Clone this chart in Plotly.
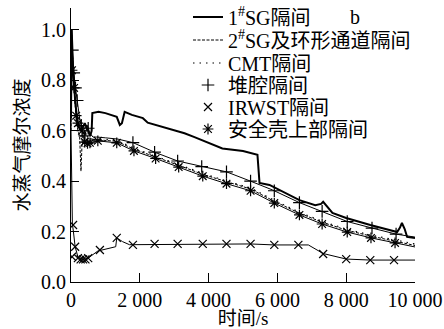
import plotly.graph_objects as go

# ---------------- data ----------------
sg1_t = [0, 20, 60, 120, 200, 300, 400, 500, 560, 600, 620, 800, 1000, 1330, 1420, 1480,
         1560, 1770, 2090, 2230, 2810, 3300, 3590, 4400, 5000, 5420, 5480, 5770, 6640, 7100,
         7270, 7330, 7600, 8000, 8700, 9250, 9480, 9560, 9620, 9700, 9770, 10000]
sg1_v = [0.65, 1.0, 0.85, 0.72, 0.62, 0.6, 0.63, 0.6, 0.58, 0.6, 0.67, 0.675, 0.67, 0.655, 0.623, 0.63,
         0.675, 0.663, 0.65, 0.632, 0.61, 0.59, 0.575, 0.53, 0.52, 0.505, 0.393, 0.385, 0.325, 0.305,
         0.31, 0.318, 0.274, 0.254, 0.226, 0.206, 0.198, 0.215, 0.234, 0.21, 0.179, 0.175]

sg2_t = [0, 20, 60, 120, 200, 250, 290, 330, 400, 500, 700, 1000, 1330, 1830, 2460, 3130,
         3830, 4520, 5220, 5910, 6640, 7300, 8030, 8720, 9420, 10000]
sg2_v = [0.6, 0.98, 0.85, 0.7, 0.6, 0.58, 0.44, 0.58, 0.6, 0.57, 0.565, 0.562, 0.558, 0.527, 0.497, 0.463,
         0.427, 0.397, 0.369, 0.32, 0.273, 0.237, 0.205, 0.182, 0.161, 0.145]

cmt_t = [0, 20, 80, 150, 250, 350, 500, 700, 1000, 1330, 1830, 2460, 3130, 3830, 4520, 5220,
         5910, 6640, 7300, 8030, 8720, 9420, 10000]
cmt_v = [0.65, 0.95, 0.8, 0.68, 0.6, 0.55, 0.56, 0.565, 0.565, 0.562, 0.531, 0.5, 0.467, 0.431, 0.401,
         0.373, 0.324, 0.277, 0.241, 0.209, 0.186, 0.166, 0.151]

dq_t = [0, 20, 40, 80, 130, 180, 250, 330, 400, 480, 550, 640, 750, 1000, 1360, 1800, 2430,
        3100, 3800, 4520, 5220, 5860, 6640, 7300, 8030, 8750, 9450, 10000]
dq_v = [0.6, 1.0, 0.92, 0.83, 0.77, 0.72, 0.65, 0.6, 0.58, 0.62, 0.59, 0.575, 0.575, 0.572, 0.567,
        0.553, 0.515, 0.48, 0.458, 0.437, 0.4, 0.365, 0.315, 0.28, 0.24, 0.214, 0.19, 0.178]
dq_mt = [40, 80, 130, 180, 300, 400, 500, 1800, 2430, 3100, 3800, 4520, 5220, 5910, 6640, 7300,
         8030, 8750, 9450]
dq_mv = [0.92, 0.83, 0.77, 0.72, 0.62, 0.58, 0.61, 0.553, 0.515, 0.48, 0.458, 0.437, 0.4, 0.362,
         0.315, 0.28, 0.24, 0.214, 0.19]

ir_t = [0, 40, 70, 120, 200, 300, 400, 500, 780, 1000, 1220, 1300, 1330, 1500, 1700, 2000, 2430,
        3100, 3830, 4520, 5220, 5910, 6610, 6900, 7330, 8000, 8700, 9390, 10000]
ir_v = [0.6, 0.23, 0.2, 0.14, 0.1, 0.09, 0.09, 0.095, 0.123, 0.13, 0.138, 0.14, 0.175, 0.16, 0.148,
        0.148, 0.151, 0.151, 0.151, 0.151, 0.151, 0.147, 0.147, 0.147, 0.113, 0.091, 0.087, 0.087, 0.087]
ir_mt = [30, 60, 120, 200, 280, 350, 420, 500, 840, 1330, 1800, 2430, 3100, 3830, 4520, 5220,
         5910, 6610, 7330, 8000, 8700, 9390]
ir_mv = [0.1, 0.226, 0.14, 0.095, 0.09, 0.09, 0.09, 0.095, 0.127, 0.175, 0.147, 0.151, 0.151,
         0.151, 0.151, 0.151, 0.147, 0.147, 0.111, 0.091, 0.087, 0.087]

aq_t = [0, 30, 90, 150, 200, 320, 400, 480, 550, 780, 1330, 1830, 2460, 3130, 3830, 4520, 5220,
        5910, 6640, 7300, 8030, 8720, 9420, 10000]
aq_v = [0.66, 0.84, 0.77, 0.66, 0.63, 0.6, 0.555, 0.55, 0.552, 0.56, 0.552, 0.52, 0.49, 0.456,
        0.42, 0.39, 0.362, 0.313, 0.266, 0.23, 0.198, 0.175, 0.155, 0.139]
aq_mt = [30, 90, 150, 200, 320, 400, 480, 550, 780, 1330, 1830, 2460, 3130, 3830, 4520, 5220,
         5910, 6640, 7300, 8030, 8720, 9420]
aq_mv = [0.84, 0.77, 0.66, 0.63, 0.6, 0.555, 0.55, 0.552, 0.56, 0.552, 0.52, 0.49, 0.456, 0.42,
         0.39, 0.362, 0.313, 0.266, 0.23, 0.198, 0.175, 0.155]

names = ["1<sup>#</sup>SG隔间", "2<sup>#</sup>SG及环形通道隔间", "CMT隔间", "堆腔隔间", "IRWST隔间", "安全壳上部隔间"]
x_ticks = [0, 2000, 4000, 6000, 8000, 10000]
x_labels = ["0", "2 000", "4 000", "6 000", "8 000", "10 000"]
y_ticks = [0.0, 0.2, 0.4, 0.6, 0.8, 1.0]
y_labels = ["0.0", "0.2", "0.4", "0.6", "0.8", "1.0"]

FONT = "Liberation Serif, Times New Roman, Noto Sans CJK SC, serif"
K = "black"

# plot area in pixels (for placing the legend rows / panel letter)
L, R, T, B = 71, 29, 8, 47
W, H = 444, 329
PW, PH = W - L - R, H - T - B


def px_x(p):
    return (p - L) / PW


def px_y(p):
    return (H - B - p) / PH


fig = go.Figure()
fig.add_trace(go.Scatter(x=sg1_t, y=sg1_v, mode="lines", name=names[0], legend="legend",
                         line=dict(color=K, width=2)))
fig.add_trace(go.Scatter(x=sg2_t, y=sg2_v, mode="lines", name=names[1], legend="legend2",
                         line=dict(color=K, width=1, dash="3px,1.5px")))
fig.add_trace(go.Scatter(x=cmt_t, y=cmt_v, mode="lines", name=names[2], legend="legend3",
                         line=dict(color=K, width=1.2, dash="1.5px,5px")))

# lines of the marker series (hidden from legend)
fig.add_trace(go.Scatter(x=dq_t, y=dq_v, mode="lines", showlegend=False,
                         line=dict(color=K, width=1)))
fig.add_trace(go.Scatter(x=ir_t, y=ir_v, mode="lines", showlegend=False,
                         line=dict(color=K, width=1)))
fig.add_trace(go.Scatter(x=aq_t, y=aq_v, mode="lines", showlegend=False,
                         line=dict(color=K, width=1)))

# markers (legend entries)
fig.add_trace(go.Scatter(x=dq_mt, y=dq_mv, mode="markers", name=names[3], legend="legend4",
                         marker=dict(symbol="cross-thin", size=9, color=K,
                                     line=dict(color=K, width=1.2))))
fig.add_trace(go.Scatter(x=ir_mt, y=ir_mv, mode="markers", name=names[4], legend="legend5",
                         marker=dict(symbol="x-thin", size=8, color=K,
                                     line=dict(color=K, width=1.2))))
fig.add_trace(go.Scatter(x=aq_mt, y=aq_mv, mode="markers", name=names[5], legend="legend6",
                         marker=dict(symbol="asterisk", size=9, color=K,
                                     line=dict(color=K, width=1.2))))

row_y = [17, 40, 63, 85, 107, 129]
legends = {}
for i, yy in enumerate(row_y):
    key = "legend" if i == 0 else f"legend{i + 1}"
    legends[key] = dict(x=px_x(188), y=px_y(yy), xanchor="left", yanchor="middle",
                        bgcolor="rgba(0,0,0,0)", borderwidth=0,
                        font=dict(family=FONT, size=20, color=K), itemwidth=30)

fig.update_layout(
    width=W, height=H,
    margin=dict(l=L, r=R, t=T, b=B, autoexpand=False),
    paper_bgcolor="white", plot_bgcolor="white",
    font=dict(family=FONT, size=20, color=K),
    showlegend=True,
    annotations=[dict(text="b", xref="paper", yref="paper", x=px_x(355),
                      y=px_y(17), showarrow=False, xanchor="center",
                      yanchor="middle", font=dict(family=FONT, size=20, color=K))],
    **legends,
)
fig.update_xaxes(range=[0, 10000], tickvals=x_ticks, ticktext=x_labels,
                 ticks="inside", ticklen=9, tickwidth=1, tickcolor=K,
                 showline=True, linecolor=K, linewidth=1, showgrid=False, zeroline=False,
                 title=dict(text="时间/s", standoff=0, font=dict(size=19)))
fig.update_yaxes(range=[0, 1.087], tickvals=y_ticks, ticktext=y_labels,
                 ticks="inside", ticklen=8, tickwidth=1, tickcolor=K,
                 showline=True, linecolor=K, linewidth=1, showgrid=False, zeroline=False,
                 title=dict(text="水蒸气摩尔浓度", standoff=6, font=dict(size=19)))

fig.write_html("out.html")
